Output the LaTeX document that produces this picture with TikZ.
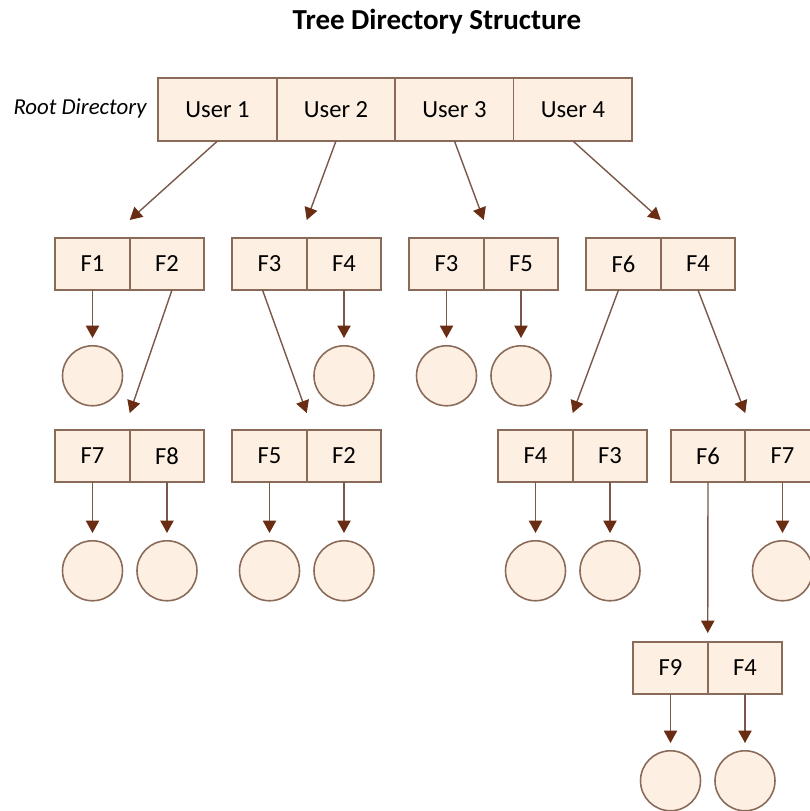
\documentclass[tikz,border=0pt]{standalone}
\usepackage{fontspec}
\setmainfont{Carlito}
\usetikzlibrary{positioning}
\usetikzlibrary{calc}
\usetikzlibrary{arrows.meta}

\definecolor{cellfill}{HTML}{FDF0E2}
\definecolor{celldraw}{HTML}{8A6A58}
\definecolor{linkbrown}{HTML}{7A5849}
\definecolor{tipbrown}{HTML}{6A2C12}

\tikzset{
  usercell/.style={draw=celldraw, fill=cellfill, line width=0.9pt, inner sep=0pt, outer sep=0pt,
    minimum width=2.37cm, minimum height=1.26cm, font=\fontsize{14}{16}\selectfont},
  filecell/.style={draw=celldraw, fill=cellfill, line width=0.9pt, inner sep=0pt, outer sep=0pt,
    minimum width=1.49cm, minimum height=1.04cm, font=\fontsize{14}{16}\selectfont},
  fileleaf/.style={circle, draw=celldraw, fill=cellfill, line width=0.9pt,
    minimum size=1.2cm, inner sep=0pt},
  link/.style={draw=linkbrown, line width=0.8pt,
    -{Triangle[width=7.5pt,length=7pt,color=tipbrown]}},
}

\begin{document}
\begin{tikzpicture}[x=0.02cm,y=-0.02cm]
\clip (0,0) rectangle (810,811);

\node[font=\bfseries\fontsize{16.5}{19}\selectfont](title) at (437,22){Tree Directory Structure};
\node[font=\itshape\fontsize{13}{16}\selectfont](rootlabel) at (80,108){Root Directory};

% root directory
\node[usercell](u1) at (217.5,109.5){User 1};
\node[usercell, right=0pt of u1](u2){User 2};
\node[usercell, right=0pt of u2](u3){User 3};
\node[usercell, right=0pt of u3](u4){User 4};

% second level
\node[filecell](a1) at (92.5,264){F1};
\node[filecell, right=0pt of a1](a2){F2};
\node[filecell](b1) at (269.5,264){F3};
\node[filecell, right=0pt of b1](b2){F4};
\node[filecell](c1) at (446.5,264){F3};
\node[filecell, right=0pt of c1](c2){F5};
\node[filecell](d1) at (623.5,264){F6};
\node[filecell, right=0pt of d1](d2){F4};

% third level
\node[filecell](e1) at (92.5,456){F7};
\node[filecell, right=0pt of e1](e2){F8};
\node[filecell](g1) at (269.5,456){F5};
\node[filecell, right=0pt of g1](g2){F2};
\node[filecell](h1) at (535.5,456){F4};
\node[filecell, right=0pt of h1](h2){F3};
\node[filecell](k1) at (708,456){F6};
\node[filecell, right=0pt of k1](k2){F7};

% fourth level
\node[filecell](m1) at (670.5,668){F9};
\node[filecell, right=0pt of m1](m2){F4};

% files
\node[fileleaf, below=1.1cm of a1](la1){};
\node[fileleaf, below=1.1cm of b2](lb2){};
\node[fileleaf, below=1.1cm of c1](lc1){};
\node[fileleaf, below=1.1cm of c2](lc2){};
\node[fileleaf, below=1.16cm of e1](le1){};
\node[fileleaf, below=1.16cm of e2](le2){};
\node[fileleaf, below=1.16cm of g1](lg1){};
\node[fileleaf, below=1.16cm of g2](lg2){};
\node[fileleaf, below=1.16cm of h1](lh1){};
\node[fileleaf, below=1.16cm of h2](lh2){};
\node[fileleaf, below=1.16cm of k2](lk2){};
\node[fileleaf, below=1.12cm of m1](lm1){};
\node[fileleaf, below=1.12cm of m2](lm2){};

% arrow targets above the boxes
\coordinate (ta) at ($(a1.north east)+(0,-18)$);
\coordinate (tb) at ($(b1.north east)+(0,-18)$);
\coordinate (tc) at ($(c1.north east)+(0,-18)$);
\coordinate (td) at ($(d1.north east)+(0,-18)$);
\coordinate (te) at ($(e1.north east)+(0,-17)$);
\coordinate (tg) at ($(g1.north east)+(0,-17)$);
\coordinate (th) at ($(h1.north east)+(0,-17)$);
\coordinate (tk) at ($(k1.north east)+(0,-17)$);
\coordinate (tm) at ($(m1.north east)+(0,-9)$);

\path
(u1.south) edge[link] (ta)
(u2.south) edge[link] (tb)
(u3.south) edge[link] (tc)
(u4.south) edge[link] (td)
([xshift=0.1cm]a2.south) edge[link] (te)
([xshift=-0.14cm]b1.south) edge[link] (tg)
([xshift=-0.1cm]d1.south) edge[link] (th)
(d2.south) edge[link] (tk)
(k1.south) edge[link] (tm)
(a1) edge[link, shorten >=0.14cm] (la1)
(b2) edge[link, shorten >=0.14cm] (lb2)
(c1) edge[link, shorten >=0.14cm] (lc1)
(c2) edge[link, shorten >=0.14cm] (lc2)
(e1) edge[link, shorten >=0.14cm] (le1)
(e2) edge[link, shorten >=0.14cm] (le2)
(g1) edge[link, shorten >=0.14cm] (lg1)
(g2) edge[link, shorten >=0.14cm] (lg2)
(h1) edge[link, shorten >=0.14cm] (lh1)
(h2) edge[link, shorten >=0.14cm] (lh2)
(k2) edge[link, shorten >=0.14cm] (lk2)
(m1) edge[link, shorten >=0.14cm] (lm1)
(m2) edge[link, shorten >=0.14cm] (lm2);
\end{tikzpicture}
\end{document}
